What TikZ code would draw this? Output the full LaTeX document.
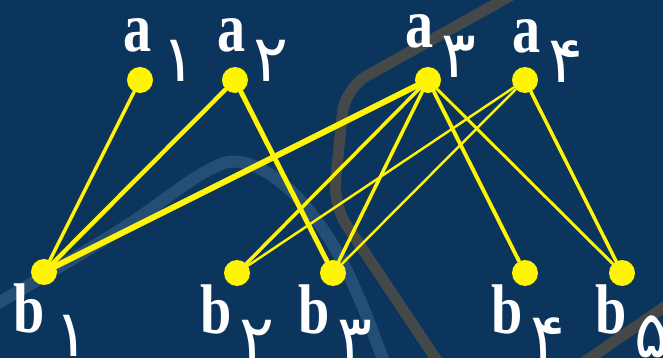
\documentclass[tikz,border=0pt]{standalone}
\usepackage{fontspec}
\setmainfont{Liberation Serif}
\newfontfamily\persdigits[Script=Arabic]{DejaVu Sans}
\definecolor{graphnavy}{RGB}{11, 53, 93}
\definecolor{graphyellow}{RGB}{255, 245, 0}
\definecolor{graphroad}{RGB}{78, 76, 70}
\definecolor{graphriver}{RGB}{70, 110, 150}
\usetikzlibrary{positioning}

\begin{document}
\begin{tikzpicture}[x=0.02cm, y=-0.02cm,
    dot/.style={circle, fill=graphyellow, inner sep=0pt, minimum size=0.52cm},
    vlab/.style={anchor=base, text=white, inner sep=0pt, font=\fontsize{40}{40}\selectfont\bfseries, xscale=0.8, transform shape},
    vidx/.style={anchor=base west, text=white, inner sep=0pt, font=\fontsize{37}{37}\persdigits},
    link/.style={graphyellow, line cap=round}]
    \useasboundingbox (0,0) rectangle (663,358);
    % Background scene
    \fill[graphnavy] (0,0) rectangle (663,358);
    \draw[graphriver, line width=0.24cm, opacity=0.45] plot[smooth, tension=0.6] coordinates {
        (-5,305) (120,230) (205,172) (245,163) (290,190) (330,240) (360,300) (385,365)};
    \draw[graphroad, line width=0.22cm, opacity=0.85, rounded corners=0.5cm]
        (512,-5) -- (345,88) -- (333,205) -- (440,365);
    \draw[graphroad, line width=0.22cm, opacity=0.85] (670,303) -- (580,365);

    % Top vertices
    \node[dot] (a1) at (140,80) {};
    \node[dot] (a2) at (235,80) {};
    \node[dot] (a3) at (428,80) {};
    \node[dot] (a4) at (525,80) {};

    % Bottom vertices
    \node[dot] (b1) at (44,272) {};
    \node[dot] (b2) at (237,273) {};
    \node[dot] (b3) at (333,273) {};
    \node[dot] (b4) at (525,273) {};
    \node[dot] (b5) at (622,273) {};

    % Edges
    \draw[link, line width=2pt] (a1) -- (b1);
    \draw[link, line width=2.5pt] (a2) -- (b1);
    \draw[link, line width=2.8pt] (a2) -- (b3);
    \draw[link, line width=3.4pt] (a3) -- (b1);
    \draw[link, line width=2pt] (a3) -- (b2);
    \draw[link, line width=2pt] (a3) -- (b3);
    \draw[link, line width=2.2pt] (a3) -- (b4);
    \draw[link, line width=1.7pt] (a3) -- (b5);
    \draw[link, line width=1.4pt] (a4) -- (b2);
    \draw[link, line width=1.4pt] (a4) -- (b3);
    \draw[link, line width=2pt] (a4) -- (b5);

    % Labels: letter, then its Persian index below right
    \node[vlab] (la1) at (138,52) {a};
    \node[vlab] (la2) at (232,52) {a};
    \node[vlab] (la3) at (420,48) {a};
    \node[vlab] (la4) at (527,53) {a};
    \node[vlab] (lb1) at (29,332) {b};
    \node[vlab] (lb2) at (216,333) {b};
    \node[vlab] (lb3) at (314,333) {b};
    \node[vlab] (lb4) at (507,333) {b};
    \node[vlab] (lb5) at (611,333) {b};

    \node[vidx] (ia1) at ([xshift=5pt, yshift=-17pt] la1.base east) {۱};
    \node[vidx] (ia2) at ([xshift=4pt, yshift=-17pt] la2.base east) {۲};
    \node[vidx] (ia3) at ([xshift=4pt, yshift=-17pt] la3.base east) {۳};
    \node[vidx] (ia4) at ([xshift=4pt, yshift=-17pt] la4.base east) {۴};
    \node[vidx] (ib1) at ([xshift=5pt, yshift=-14pt] lb1.base east) {۱};
    \node[vidx] (ib2) at ([xshift=4pt, yshift=-16pt] lb2.base east) {۲};
    \node[vidx] (ib3) at ([xshift=4pt, yshift=-16pt] lb3.base east) {۳};
    \node[vidx] (ib4) at ([xshift=4pt, yshift=-15pt] lb4.base east) {۴};
    \node[vidx] (ib5) at ([xshift=4pt, yshift=-14pt] lb5.base east) {۵};
\end{tikzpicture}
\end{document}
